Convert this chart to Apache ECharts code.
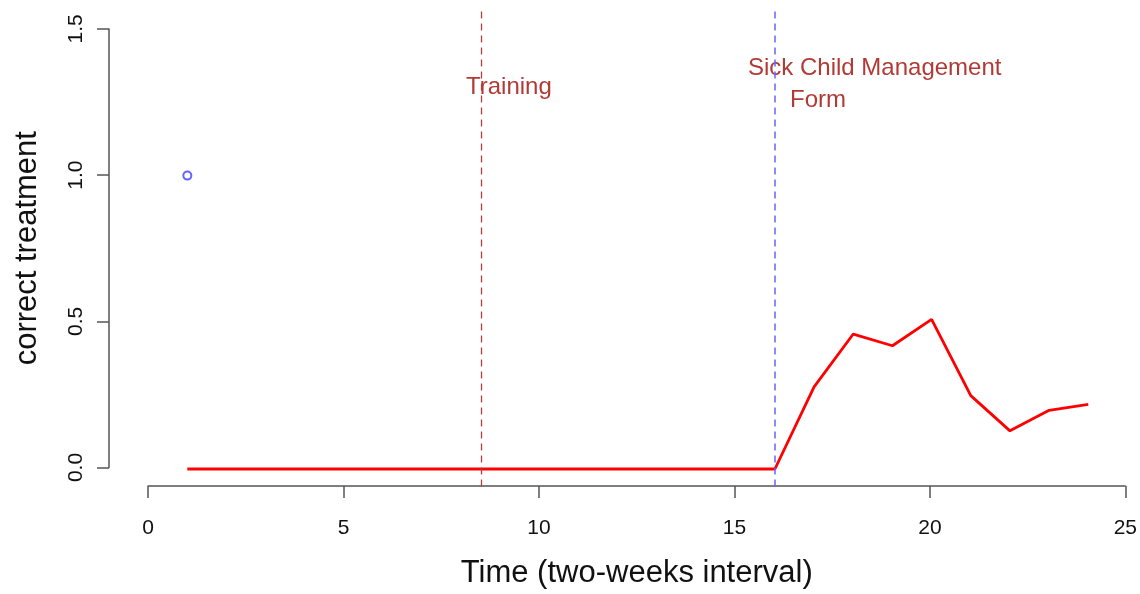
<!DOCTYPE html>
<html>
<head>
<meta charset="utf-8">
<script src="https://cdn.jsdelivr.net/npm/echarts@6/dist/echarts.min.js"></script>
<style>
html,body{margin:0;padding:0;background:#fff;}
#chart{width:1140px;height:594px;}
</style>
</head>
<body>
<div id="chart"></div>
<script>
// ---- data ----
const timePoints = [1,2,3,4,5,6,7,8,9,10,11,12,13,14,15,16,17,18,19,20,21,22,23,24];
const correctTreatment = [0,0,0,0,0,0,0,0,0,0,0,0,0,0,0,0,0.28,0.46,0.42,0.51,0.25,0.13,0.20,0.22];
const singlePointX = [1];
const singlePointY = [1.0];
const eventTimes = [8.5, 16];
const eventLabels = ['Training', 'Sick Child Management', 'Form'];
const xTicks = [0, 5, 10, 15, 20, 25];
const yTicks = [0.0, 0.5, 1.0, 1.5];

const FONT = '"Liberation Sans", Arial, sans-serif';
const txtColor = '#b23a35';

const chart = echarts.init(document.getElementById('chart'), null, {renderer: 'canvas'});

const option = {
  animation: false,
  backgroundColor: '#ffffff',
  grid: [
    // plot region (R usr coordinates)
    {left: 109, right: 0, top: 11.3, bottom: 107.4, containLabel: false},
    // axis frame (data range)
    {left: 148.2, right: 12.5, top: 28.9, bottom: 125, containLabel: false}
  ],
  xAxis: [
    {gridIndex: 0, type: 'value', min: -1, max: 25.32, show: false},
    {gridIndex: 1, type: 'value', min: xTicks[0], max: xTicks[xTicks.length-1], interval: 5,
     position: 'bottom', offset: 18.5,
     axisLine: {show: true, onZero: false, lineStyle: {color: '#555', width: 1.5}},
     axisTick: {show: true, inside: false, length: 12, lineStyle: {color: '#555', width: 1.5}},
     axisLabel: {show: true, margin: 32, fontFamily: FONT, fontSize: 21, color: '#111',
       formatter: v => String(v)},
     splitLine: {show: false},
     name: 'Time (two-weeks interval)', nameLocation: 'middle', nameGap: 72,
     nameTextStyle: {fontFamily: FONT, fontSize: 31, color: '#111'}
    }
  ],
  yAxis: [
    {gridIndex: 0, type: 'value', min: -0.06, max: 1.56, show: false},
    {gridIndex: 1, type: 'value', min: yTicks[0], max: yTicks[yTicks.length-1], interval: 0.5,
     position: 'left', offset: 39.2,
     axisLine: {show: true, onZero: false, lineStyle: {color: '#555', width: 1.5}},
     axisTick: {show: true, inside: false, length: 12, lineStyle: {color: '#555', width: 1.5}},
     axisLabel: {show: true, margin: 22, rotate: 90, fontFamily: FONT, fontSize: 21, color: '#111',
       formatter: v => v.toFixed(1)},
     splitLine: {show: false},
     name: 'correct treatment', nameLocation: 'middle', nameGap: 66, nameRotate: 90,
     nameTextStyle: {fontFamily: FONT, fontSize: 31, color: '#111'}
    }
  ],
  series: [
    {
      type: 'line', xAxisIndex: 0, yAxisIndex: 0,
      data: timePoints.map((t, i) => [t, correctTreatment[i]]),
      showSymbol: false, symbol: 'none',
      lineStyle: {color: '#ff0000', width: 2.8},
      z: 3,
      markLine: {
        silent: true, symbol: ['none', 'none'], label: {show: false},
        data: [
          {xAxis: eventTimes[0], lineStyle: {color: '#b04040', type: [7, 5], width: 1.3}},
          {xAxis: eventTimes[1], lineStyle: {color: '#6666ff', type: [7, 5], width: 1.5}}
        ]
      }
    },
    {
      type: 'scatter', xAxisIndex: 0, yAxisIndex: 0,
      data: singlePointX.map((x, i) => [x, singlePointY[i]]),
      symbol: 'circle', symbolSize: 8,
      itemStyle: {color: 'rgba(0,0,0,0)', borderColor: '#3c3cff', borderWidth: 2},
      z: 4
    }
  ],
  graphic: [
    {type: 'text', left: 466, top: 75, style: {text: eventLabels[0], font: '24px ' + FONT, fill: txtColor}},
    {type: 'text', left: 748, top: 56, style: {text: eventLabels[1], font: '24px ' + FONT, fill: txtColor}},
    {type: 'text', left: 790, top: 88, style: {text: eventLabels[2], font: '24px ' + FONT, fill: txtColor}}
  ]
};
chart.setOption(option);
</script>
</body>
</html>
